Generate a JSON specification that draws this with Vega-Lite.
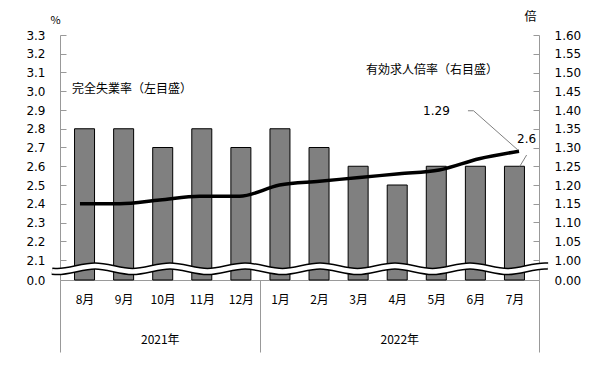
{
  "$schema": "https://vega.github.io/schema/vega-lite/v6.json",
  "width": 479,
  "height": 245,
  "autosize": "none",
  "padding": {"left": 60, "top": 35, "right": 66, "bottom": 95},
  "background": "white",
  "config": {"view": {"stroke": null}, "font": "DejaVu Sans"},
  "datasets": {
    "main": [
      {"i": 0.5, "unemp": 2.8, "ratio": 1.15},
      {"i": 1.5, "unemp": 2.8, "ratio": 1.15},
      {"i": 2.5, "unemp": 2.7, "ratio": 1.16},
      {"i": 3.5, "unemp": 2.8, "ratio": 1.17},
      {"i": 4.5, "unemp": 2.7, "ratio": 1.17},
      {"i": 5.5, "unemp": 2.8, "ratio": 1.20},
      {"i": 6.5, "unemp": 2.7, "ratio": 1.21},
      {"i": 7.5, "unemp": 2.6, "ratio": 1.22},
      {"i": 8.5, "unemp": 2.5, "ratio": 1.23},
      {"i": 9.5, "unemp": 2.6, "ratio": 1.24},
      {"i": 10.5, "unemp": 2.6, "ratio": 1.27},
      {"i": 11.5, "unemp": 2.6, "ratio": 1.29}
    ],
    "wave": [
      {"wx": -0.2, "wy": 0.93},
      {"wx": -0.063, "wy": 0.89},
      {"wx": 0.877, "wy": 1.47},
      {"wx": 1.816, "wy": 0.89},
      {"wx": 2.756, "wy": 1.47},
      {"wx": 3.695, "wy": 0.89},
      {"wx": 4.635, "wy": 1.47},
      {"wx": 5.574, "wy": 0.89},
      {"wx": 6.514, "wy": 1.47},
      {"wx": 7.453, "wy": 0.89},
      {"wx": 8.392, "wy": 1.47},
      {"wx": 9.332, "wy": 0.89},
      {"wx": 10.271, "wy": 1.47},
      {"wx": 11.211, "wy": 0.89},
      {"wx": 12.15, "wy": 1.47},
      {"wx": 12.225, "wy": 1.46}
    ],
    "leaders": [
      {"id": "a", "lx": 10.22, "ly": 2.896},
      {"id": "a", "lx": 10.36, "ly": 2.896},
      {"id": "a", "lx": 11.47, "ly": 2.687},
      {"id": "b", "lx": 11.69, "ly": 2.66},
      {"id": "b", "lx": 11.52, "ly": 2.6}
    ],
    "jpLabels": [
      {"tx": 0.30, "ty": 3.01, "text": "完全失業率（左目盛）"},
      {"tx": 7.666, "ty": 3.113, "text": "有効求人倍率（右目盛）"}
    ],
    "numLabels": [
      {"tx": 9.43, "ty": 2.896, "text": "1.29"},
      {"tx": 11.69, "ty": 2.745, "text": "2.6"}
    ],
    "years": [
      {"pos": 0}, {"pos": 5}, {"pos": 12}
    ]
  },
  "layer": [
    {
      "data": {"name": "main"},
      "mark": {"type": "bar", "size": 20, "fill": "#808080", "stroke": "#000000", "strokeWidth": 1},
      "encoding": {
        "x": {
          "field": "i", "type": "quantitative",
          "scale": {"domain": [0, 12], "nice": false, "zero": false},
          "axis": {
            "orient": "bottom",
            "values": [0.5, 1.5, 2.5, 3.5, 4.5, 5.5, 6.5, 7.5, 8.5, 9.5, 10.5, 11.5],
            "labelExpr": "['8月','9月','10月','11月','12月','1月','2月','3月','4月','5月','6月','7月'][floor(datum.value)]",
            "ticks": false, "grid": false, "domain": true, "domainColor": "#999999", "domainWidth": 1,
            "labelPadding": 14, "labelFont": "Noto Sans CJK JP", "labelFontSize": 12, "labelColor": "#000000",
            "labelOverlap": false, "labelFlush": false, "labelBound": false, "title": null
          }
        },
        "y": {
          "field": "unemp", "type": "quantitative", "stack": null,
          "scale": {"domain": [0, 2.1, 3.3], "range": [245, 225, 0], "nice": false, "zero": false},
          "axis": {
            "orient": "left",
            "values": [0, 2.1, 2.2, 2.3, 2.4, 2.5, 2.6, 2.7, 2.8, 2.9, 3.0, 3.1, 3.2, 3.3],
            "format": ".1f", "grid": false, "domainColor": "#999999", "tickColor": "#999999",
            "tickSize": -6, "labelPadding": 21, "labelFontSize": 12, "labelColor": "#000000",
            "labelFont": "DejaVu Sans", "labelOverlap": false, "labelFlush": false, "labelBound": false,
            "title": "%", "titleAngle": 0, "titleX": -5, "titleY": -15, "titleAlign": "center",
            "titleBaseline": "middle", "titleFontSize": 11, "titleFontWeight": "normal", "titleColor": "#000000",
            "titleFont": "Noto Sans CJK JP"
          }
        }
      }
    },
    {
      "data": {"name": "wave"},
      "mark": {"type": "line", "interpolate": "monotone", "stroke": "#000000", "strokeWidth": 7.5},
      "encoding": {
        "x": {"field": "wx", "type": "quantitative", "scale": {"domain": [0, 12], "nice": false, "zero": false}, "axis": null},
        "y": {"field": "wy", "type": "quantitative", "scale": {"domain": [0, 2.1, 3.3], "range": [245, 225, 0], "nice": false, "zero": false}, "axis": null}
      }
    },
    {
      "data": {"name": "wave"},
      "mark": {"type": "line", "interpolate": "monotone", "stroke": "#ffffff", "strokeWidth": 4.5},
      "encoding": {
        "x": {"field": "wx", "type": "quantitative", "scale": {"domain": [0, 12], "nice": false, "zero": false}, "axis": null},
        "y": {"field": "wy", "type": "quantitative", "scale": {"domain": [0, 2.1, 3.3], "range": [245, 225, 0], "nice": false, "zero": false}, "axis": null}
      }
    },
    {
      "data": {"name": "main"},
      "mark": {"type": "line", "interpolate": "monotone", "stroke": "#000000", "strokeWidth": 3.5},
      "encoding": {
        "x": {"field": "i", "type": "quantitative", "scale": {"domain": [0, 12], "nice": false, "zero": false}, "axis": null},
        "y": {
          "field": "ratio", "type": "quantitative",
          "scale": {"domain": [0, 1.0, 1.6], "range": [245, 225, 0], "nice": false, "zero": false},
          "axis": {
            "orient": "right",
            "values": [0, 1.0, 1.05, 1.1, 1.15, 1.2, 1.25, 1.3, 1.35, 1.4, 1.45, 1.5, 1.55, 1.6],
            "format": ".2f", "grid": false, "domainColor": "#999999", "tickColor": "#999999",
            "tickSize": -6, "labelPadding": 21, "labelFontSize": 12, "labelColor": "#000000",
            "labelFont": "DejaVu Sans", "labelOverlap": false, "labelFlush": false, "labelBound": false,
            "title": "倍", "titleAngle": 0, "titleX": -9, "titleY": -19, "titleAlign": "center",
            "titleBaseline": "middle", "titleFontSize": 12, "titleFontWeight": "normal", "titleColor": "#000000",
            "titleFont": "Noto Sans CJK JP"
          }
        }
      }
    },
    {
      "data": {"name": "leaders"},
      "mark": {"type": "line", "stroke": "#808080", "strokeWidth": 1},
      "encoding": {
        "x": {"field": "lx", "type": "quantitative", "scale": {"domain": [0, 12], "nice": false, "zero": false}, "axis": null},
        "y": {"field": "ly", "type": "quantitative", "scale": {"domain": [0, 2.1, 3.3], "range": [245, 225, 0], "nice": false, "zero": false}, "axis": null},
        "detail": {"field": "id"}
      }
    },
    {
      "data": {"name": "jpLabels"},
      "mark": {"type": "text", "align": "left", "baseline": "middle", "font": "Noto Sans CJK JP", "fontSize": 12, "color": "#000000"},
      "encoding": {
        "x": {"field": "tx", "type": "quantitative", "scale": {"domain": [0, 12], "nice": false, "zero": false}, "axis": null},
        "y": {"field": "ty", "type": "quantitative", "scale": {"domain": [0, 2.1, 3.3], "range": [245, 225, 0], "nice": false, "zero": false}, "axis": null},
        "text": {"field": "text"}
      }
    },
    {
      "data": {"name": "numLabels"},
      "mark": {"type": "text", "align": "center", "baseline": "middle", "font": "DejaVu Sans", "fontSize": 12, "color": "#000000"},
      "encoding": {
        "x": {"field": "tx", "type": "quantitative", "scale": {"domain": [0, 12], "nice": false, "zero": false}, "axis": null},
        "y": {"field": "ty", "type": "quantitative", "scale": {"domain": [0, 2.1, 3.3], "range": [245, 225, 0], "nice": false, "zero": false}, "axis": null},
        "text": {"field": "text"}
      }
    },
    {
      "data": {"name": "years"},
      "mark": {"type": "point", "opacity": 0},
      "encoding": {
        "x": {
          "field": "pos", "type": "quantitative",
          "scale": {"domain": [0, 12], "nice": false, "zero": false},
          "axis": {
            "orient": "bottom",
            "values": [0, 2.5, 5, 8.5, 12],
            "labelExpr": "datum.value == 2.5 ? '2021年' : datum.value == 8.5 ? '2022年' : ''",
            "ticks": true, "tickSize": 72, "tickColor": "#999999",
            "tickOpacity": {"condition": {"test": "datum.value == 2.5 || datum.value == 8.5", "value": 0}, "value": 1},
            "domain": false, "grid": false, "labelPadding": -18,
            "labelFont": "Noto Sans CJK JP", "labelFontSize": 12, "labelColor": "#000000",
            "labelOverlap": false, "labelFlush": false, "labelBound": false, "title": null
          }
        }
      }
    }
  ],
  "resolve": {"scale": {"x": "independent", "y": "independent"}}
}
